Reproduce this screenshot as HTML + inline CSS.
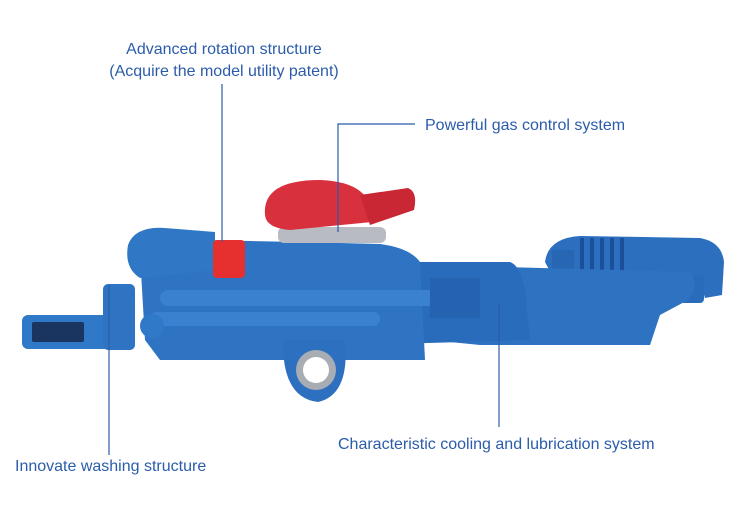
<!DOCTYPE html>
<html><head><meta charset="utf-8"><style>
body{margin:0;background:#fff;width:750px;height:529px;overflow:hidden}
svg{display:block}
text{font-family:"Liberation Sans",Arial,sans-serif;font-size:16px;fill:#2b5cab}
</style></head><body>
<svg width="750" height="529" viewBox="0 0 750 529">
<path d="M545 262 Q548 238 580 236 L700 238 Q722 242 724 262 L722 295 L705 298 L700 282 L690 280 L640 282 L560 290 Z" fill="#2c6fbf"/>
<rect x="680" y="275" width="24" height="28" rx="4" fill="#2a6cbc"/>
<g stroke="#1c4f99" stroke-width="4">
<line x1="582" y1="238" x2="582" y2="272"/><line x1="592" y1="238" x2="592" y2="272"/><line x1="602" y1="238" x2="602" y2="272"/><line x1="612" y1="238" x2="612" y2="272"/><line x1="622" y1="238" x2="622" y2="272"/>
</g>
<rect x="552" y="250" width="22" height="26" fill="#2766b3"/>
<path d="M430 265 L690 272 Q700 285 688 300 L660 315 L650 345 L480 345 L430 340 Z" fill="#2e72c2"/>
<path d="M360 262 L510 262 Q520 265 525 290 L530 340 L360 345 Z" fill="#2a6cbc"/>
<path d="M140 255 Q150 240 200 240 L300 242 L380 244 Q410 248 420 262 L425 360 L160 360 L145 340 Z" fill="#2f74c3"/>
<path d="M128 245 Q135 226 165 228 L215 232 L215 270 L140 278 Q124 268 128 245 Z" fill="#3078c6"/>
<path d="M283 340 L345 340 Q350 395 318 402 Q282 398 283 340Z" fill="#2d70bf"/>
<circle cx="316" cy="370" r="20" fill="#a8adb3"/><circle cx="316" cy="370" r="13" fill="#fff"/>
<rect x="160" y="290" width="310" height="16" rx="8" fill="#3a82cf"/>
<rect x="150" y="312" width="230" height="14" rx="7" fill="#3a82cf"/>
<circle cx="152" cy="326" r="12" fill="#3079c8"/>
<rect x="430" y="278" width="50" height="40" fill="#2563b0"/>
<rect x="22" y="315" width="112" height="34" rx="6" fill="#3079c8"/>
<rect x="32" y="322" width="52" height="20" rx="2" fill="#1a3560"/>
<rect x="103" y="284" width="32" height="66" rx="5" fill="#2e74c3"/>
<rect x="278" y="227" width="108" height="16" rx="6" fill="#b8bcc2"/>
<path d="M265 215 Q262 180 320 180 Q375 182 372 222 L290 230 Q266 228 265 215Z" fill="#d8303c"/>
<path d="M360 195 L408 188 Q418 192 414 210 L370 225 Z" fill="#c82733"/>
<rect x="213" y="240" width="32" height="38" rx="4" fill="#e63030"/>
<g stroke="#2b5cab" stroke-width="1.2" fill="none">
<line x1="222" y1="84" x2="222" y2="242"/>
<polyline points="415,124 338,124 338,232"/>
<line x1="499" y1="304" x2="499" y2="427"/>
<line x1="109" y1="285" x2="109" y2="455"/>
</g>
<text x="224" y="54" text-anchor="middle">Advanced rotation structure</text>
<text x="224" y="76" text-anchor="middle">(Acquire the model utility patent)</text>
<text x="425" y="130">Powerful gas control system</text>
<text x="338" y="449">Characteristic cooling and lubrication system</text>
<text x="15" y="471">Innovate washing structure</text>
</svg>
</body></html>
